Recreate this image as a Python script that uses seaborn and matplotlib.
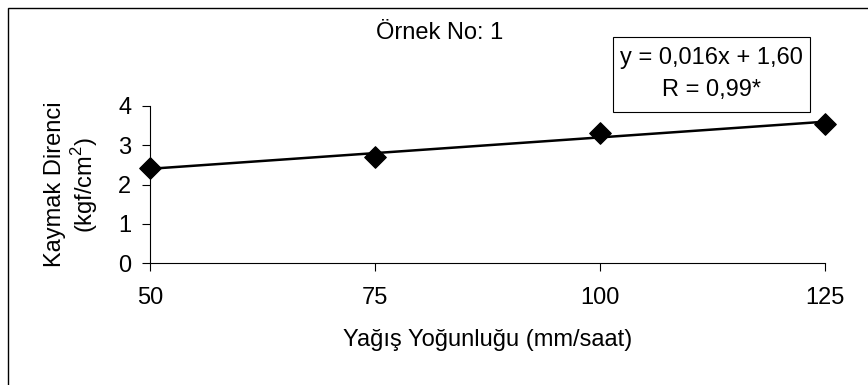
import numpy as np
import pandas as pd
import matplotlib
matplotlib.use("Agg")
import matplotlib.pyplot as plt
import seaborn as sns

# Rainfall intensity (mm/h) and measured crust strength (kgf/cm2)
intensity = [50, 75, 100, 125]
strength = [2.42, 2.71, 3.31, 3.54]

# Fitted regression coefficients shown in the annotation
slope = 0.016
intercept = 1.60

title_text = "Örnek No: 1"
x_label = "Yağış Yoğunluğu (mm/saat)"
y_label = "Kaymak Direnci\n(kgf/cm$^2$)"
eq_lines = ["y = 0,016x + 1,60", "R = 0,99*"]
x_ticks = [50, 75, 100, 125]
y_ticks = [0, 1, 2, 3, 4]

FS = 17

sns.set_theme(style="white")
plt.rcParams["font.family"] = ["Liberation Sans", "DejaVu Sans"]
plt.rcParams["mathtext.fontset"] = "custom"
plt.rcParams["mathtext.rm"] = "Liberation Sans"

fig = plt.figure(figsize=(8.68, 3.85), dpi=100)
W, H = 868, 385
ax = fig.add_axes([150 / W, 1 - 263 / H, (825 - 150) / W, (263 - 106) / H])

points = pd.DataFrame({"x": intensity, "y": strength})
fit_x = np.array([intensity[0], intensity[-1]], dtype=float)
fit = pd.DataFrame({"x": fit_x, "y": slope * fit_x + intercept})

sns.lineplot(data=fit, x="x", y="y", ax=ax, color="black", linewidth=1.8,
             clip_on=False)
sns.scatterplot(data=points, x="x", y="y", ax=ax, marker="D", s=120,
                color="black", edgecolor="black", clip_on=False, zorder=5)

ax.set_xlim(50, 125)
ax.set_ylim(0, 4)
ax.set_xticks(x_ticks)
ax.set_yticks(y_ticks)
ax.tick_params(axis="both", which="both", direction="out", length=5.5,
               width=0.8, color="black", labelsize=FS, labelcolor="black",
               bottom=True, left=True)
ax.tick_params(axis="x", pad=12)
ax.tick_params(axis="y", pad=8)

for side in ["top", "right"]:
    ax.spines[side].set_visible(False)
for side in ["left", "bottom"]:
    ax.spines[side].set_color("black")
    ax.spines[side].set_linewidth(0.8)

ax.set_xlabel(x_label, fontsize=FS, color="black")
ax.xaxis.label.set_va("center")
ax.xaxis.set_label_coords((488 - 150) / 675, (263 - 340) / 157)

ax.set_ylabel(y_label, fontsize=FS, color="black", linespacing=1.15)
ax.yaxis.label.set_va("center")
ax.yaxis.set_label_coords((72 - 150) / 675, 0.5)

fig.text(440 / W, 1 - 33 / H, title_text, ha="center", va="center",
         fontsize=FS, color="black")

# Regression equation box
box = plt.Rectangle((613 / W, 1 - 112 / H), (810 - 613) / W, (112 - 37) / H,
                    transform=fig.transFigure, facecolor="white",
                    edgecolor="black", linewidth=0.8)
fig.patches.append(box)
for line, yc in zip(eq_lines, [58, 90]):
    fig.text(711 / W, 1 - yc / H, line, ha="center", va="center",
             fontsize=FS, color="black")

# Outer chart-area frame
frame = plt.Rectangle((8 / W, -0.1), 1.2, 1 - 8 / H + 0.1,
                      transform=fig.transFigure, fill=False,
                      edgecolor="black", linewidth=1.0)
fig.patches.append(frame)

fig.savefig("out.png", dpi=100)
